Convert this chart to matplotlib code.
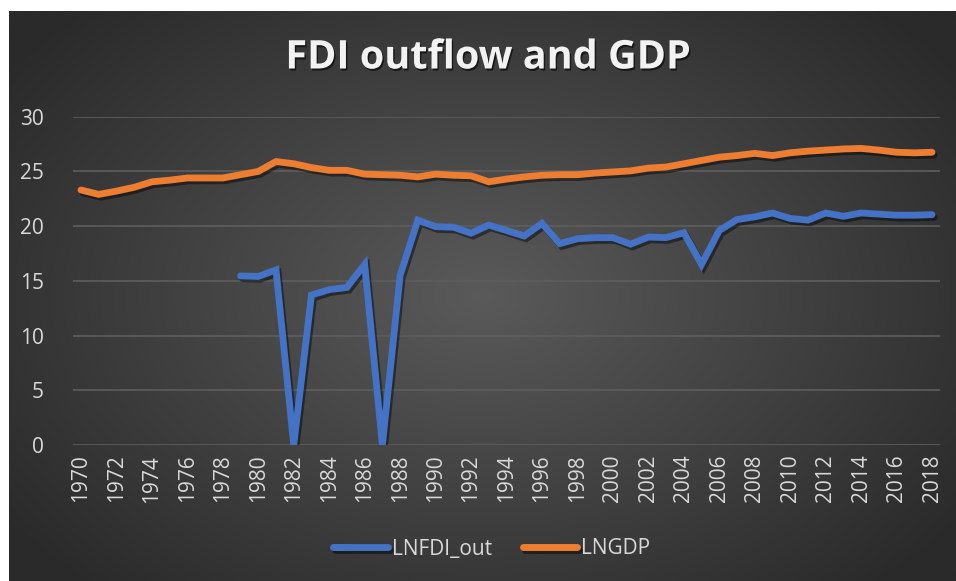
import numpy as np
import matplotlib
matplotlib.use("Agg")
import matplotlib.pyplot as plt
import matplotlib.patheffects as pe

years = list(range(1970, 2019))
lngdp = [23.3, 22.9, 23.2, 23.55, 24.05, 24.2, 24.4, 24.4, 24.4, 24.7,
         25.0, 25.9, 25.7, 25.35, 25.1, 25.1, 24.75, 24.7, 24.65, 24.5,
         24.75, 24.65, 24.6, 24.05, 24.3, 24.5, 24.65, 24.7, 24.7, 24.85,
         24.95, 25.05, 25.3, 25.4, 25.7, 26.0, 26.3, 26.45, 26.65, 26.45,
         26.7, 26.85, 26.95, 27.05, 27.1, 26.95, 26.75, 26.7, 26.75]
lnfdi_out = [np.nan] * 9 + [15.45, 15.4, 16.0, 0.0, 13.7, 14.2, 14.4, 16.5, 0.0, 15.5,
             20.55, 19.95, 19.9, 19.35, 20.1, 19.6, 19.1, 20.25, 18.4, 18.85,
             18.95, 18.95, 18.35, 19.0, 18.95, 19.4, 16.5, 19.6, 20.6, 20.85,
             21.2, 20.7, 20.55, 21.2, 20.9, 21.2, 21.1, 21.0, 21.0, 21.05]
yticks = [0, 5, 10, 15, 20, 25, 30]
xtick_labels = [str(y) for y in years[::2]]

W, H = 956, 581
fig = plt.figure(figsize=(W / 100, H / 100), dpi=100)
fig.patch.set_facecolor("white")

# dark radial gradient background
bg = fig.add_axes([9 / W, 0, (W - 9) / W, (H - 11) / H])
bg.set_axis_off()
gx, gy = np.meshgrid(np.linspace(-1, 1, 400), np.linspace(-1, 1, 250))
r = np.sqrt((gx * 1.0) ** 2 + (gy * 0.9) ** 2)
r = np.clip(r / 1.25, 0, 1)
c0 = np.array([0x5a, 0x5a, 0x5a]) / 255
c1 = np.array([0x2a, 0x2a, 0x2a]) / 255
img = c0[None, None, :] * (1 - r[..., None]) + c1[None, None, :] * r[..., None]
bg.imshow(img, aspect="auto", extent=[0, 1, 0, 1], interpolation="bilinear")

font = "Open Sans"
tick_color = "#d9d9d9"

ax = fig.add_axes([73 / W, 1 - 445 / H, (940 - 73) / W, (445 - 116.7) / H])
ax.set_facecolor("none")
x = np.arange(len(years))
shadow = [pe.SimpleLineShadow(offset=(1.5, -2), shadow_color="black", alpha=0.45), pe.Normal()]
ax.plot(x, lnfdi_out, color="#4472C4", lw=4.9, solid_capstyle="round",
        solid_joinstyle="miter", label="LNFDI_out", path_effects=shadow, zorder=3)
ax.plot(x, lngdp, color="#ED7D31", lw=4.9, solid_capstyle="round",
        solid_joinstyle="miter", label="LNGDP", path_effects=shadow, zorder=3)

ax.set_xlim(-0.45, len(years) - 0.55)
ax.set_ylim(0, 30)
ax.set_yticks(yticks)
ax.set_yticklabels([str(v) for v in yticks], fontsize=15, color=tick_color, family=font)
ax.set_xticks(x[::2])
ax.set_xticklabels(xtick_labels, rotation=90, fontsize=15, color=tick_color, family=font)
ax.tick_params(axis="both", length=0, pad=7)
ax.tick_params(axis="y", pad=21)
ax.grid(axis="y", color="#5e5e5e", lw=1.2)
ax.set_axisbelow(True)
for s in ax.spines.values():
    s.set_visible(False)

fig.text(488 / W, 1 - 58 / H, "FDI outflow and GDP", ha="center", va="center",
         fontsize=28.5, fontweight="bold", color="#f2f2f2", family=font,
         path_effects=[pe.withSimplePatchShadow(offset=(1, -1.5), shadow_rgbFace="black", alpha=0.6)])

leg = fig.legend(loc="center", bbox_to_anchor=(492 / W, 1 - 549 / H), ncol=2,
                 frameon=False, prop={"family": font, "size": 15},
                 handlelength=2.6, handletextpad=0.2, columnspacing=1.5)
for t in leg.get_texts():
    t.set_color(tick_color)
for l in leg.get_lines():
    l.set_linewidth(5)
    l.set_solid_capstyle("round")

fig.savefig("out.png", dpi=100, facecolor=fig.get_facecolor())
